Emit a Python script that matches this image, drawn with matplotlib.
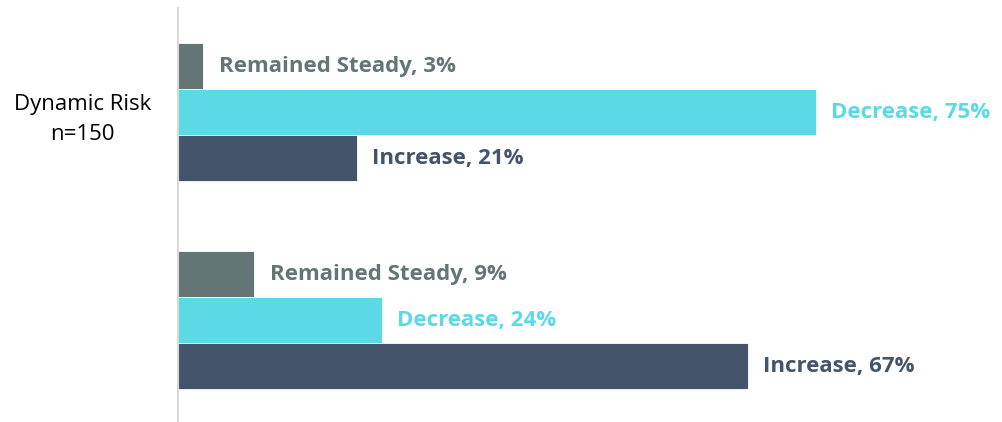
import matplotlib
matplotlib.use("Agg")
import matplotlib.pyplot as plt

groups = ["Dynamic Risk\nn=150", ""]
categories = ["Remained Steady", "Decrease", "Increase"]
values = {
    "Remained Steady": [3, 9],
    "Decrease": [75, 24],
    "Increase": [21, 67],
}
colors = {
    "Remained Steady": "#637575",
    "Decrease": "#5BD9E5",
    "Increase": "#44546A",
}

fig = plt.figure(figsize=(10.03, 4.22), dpi=100)
ax = fig.add_axes([178/1003, 0, 825/1003, 414/422])

h = 46/208
offsets = [-h, 0, h]
for cat, off in zip(categories, offsets):
    ys = [i + off for i in range(len(groups))]
    ax.barh(ys, values[cat], height=h, color=colors[cat], edgecolor="white", linewidth=0.6)
    for y, v in zip(ys, values[cat]):
        ax.annotate(f"{cat}, {v}%", xy=(v, y), xytext=(11, 0), textcoords="offset points",
                    va="center", ha="left", fontsize=16, fontweight="bold",
                    color=colors[cat], family="Open Sans")

ax.set_xlim(0, 825/8.5)
ax.set_ylim(1.49, -0.5)
ax.set_yticks(range(len(groups)))
ax.set_yticklabels(groups, fontsize=16, family="Open Sans", ha="center", linespacing=1.6)
ax.tick_params(axis="y", length=0, pad=69)
ax.set_xticks([])
for s in ["top", "right", "bottom"]:
    ax.spines[s].set_visible(False)
ax.spines["left"].set_color("#D9D9D9")
ax.spines["left"].set_linewidth(1.5)

fig.savefig("out.png", dpi=100)
